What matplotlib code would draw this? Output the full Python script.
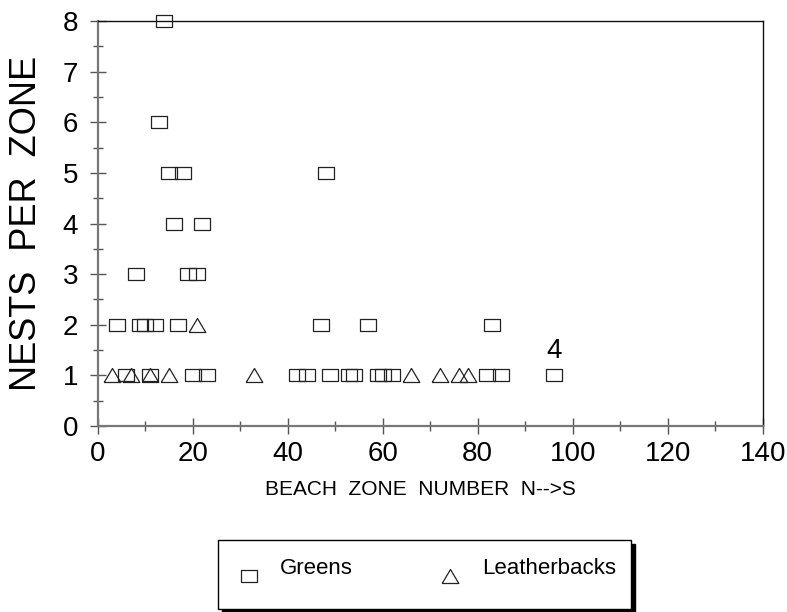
import matplotlib
matplotlib.use("Agg")
import matplotlib.pyplot as plt
from matplotlib.patches import Rectangle
from matplotlib.lines import Line2D
from matplotlib.ticker import MultipleLocator

plt.rcParams['font.family'] = ['Liberation Sans', 'DejaVu Sans']

# Beach zone number (x) and nests per zone (y) for each species
greens_zone = [14, 13, 15, 18, 48, 16, 22, 8, 19, 21,
               4, 9, 10, 12, 17, 47, 57, 83,
               6, 11, 20, 23, 42, 44, 49, 53, 54, 59, 60, 62, 82, 85, 96]
greens_nests = [8, 6, 5, 5, 5, 4, 4, 3, 3, 3,
                2, 2, 2, 2, 2, 2, 2, 2,
                1, 1, 1, 1, 1, 1, 1, 1, 1, 1, 1, 1, 1, 1, 1]

leather_zone = [21, 3, 7, 11, 15, 33, 66, 72, 76, 78]
leather_nests = [2, 1, 1, 1, 1, 1, 1, 1, 1, 1]

note_zone, note_nests, note_text = 96, 1.48, "4"

x_ticks = [0, 20, 40, 60, 80, 100, 120, 140]
y_ticks = [0, 1, 2, 3, 4, 5, 6, 7, 8]

W, H = 787, 612
fig = plt.figure(figsize=(W / 100, H / 100), dpi=100)
ax = fig.add_axes([97.7 / W, 1 - 426 / H, (762.7 - 97.7) / W, (426 - 21) / H])

# open rectangle and open triangle marker shapes
rect_marker = [(-0.5, -0.37), (0.5, -0.37), (0.5, 0.37), (-0.5, 0.37), (-0.5, -0.37)]
tri_marker = [(-0.5, -0.42), (0.5, -0.42), (0.0, 0.42), (-0.5, -0.42)]
mk_color = '#222222'

ax.plot(greens_zone, greens_nests, linestyle='none', marker=rect_marker,
        markersize=11.5, markerfacecolor='none', markeredgecolor=mk_color,
        markeredgewidth=0.9, clip_on=False, zorder=3)
ax.plot(leather_zone, leather_nests, linestyle='none', marker=tri_marker,
        markersize=12.0, markerfacecolor='none', markeredgecolor=mk_color,
        markeredgewidth=0.9, clip_on=False, zorder=3)

ax.text(note_zone, note_nests, note_text, ha='center', va='center', fontsize=20)

ax.set_xlim(0, 140)
ax.set_ylim(0, 8)
ax.set_xticks(x_ticks)
ax.set_yticks(y_ticks)
ax.xaxis.set_minor_locator(MultipleLocator(10))
ax.yaxis.set_minor_locator(MultipleLocator(0.5))

ax.tick_params(axis='both', which='major', direction='inout', length=12,
               width=1.0, color='#555555', labelsize=20)
ax.tick_params(axis='both', which='minor', direction='inout', length=7,
               width=1.0, color='#555555')
ax.tick_params(axis='y', which='major', pad=8)
ax.tick_params(axis='x', which='major', pad=5)

for side in ('left', 'bottom'):
    ax.spines[side].set_color('#777777')
    ax.spines[side].set_linewidth(1.6)
for side in ('top', 'right'):
    ax.spines[side].set_color('#111111')
    ax.spines[side].set_linewidth(1.0)

ax.set_ylabel("NESTS  PER  ZONE", fontsize=26)
ax.yaxis.set_label_coords((44 - 97.7) / 665, 0.5)
ax.set_xlabel("BEACH  ZONE  NUMBER  N-->S", fontsize=15)
ax.xaxis.set_label_coords((420 - 97.7) / 665, -(480 - 426) / 405)
ax.xaxis.label.set_va('top')

# legend box with a drop shadow
def fx(px):
    return px / W

def fy(py):
    return 1 - py / H

x0, x1, y0, y1 = 218, 631, 540, 609
fig.add_artist(Rectangle((fx(x0 + 4), fy(y1 + 4)), fx(x1 - x0), (y1 - y0) / H,
                         transform=fig.transFigure, facecolor='black',
                         edgecolor='black', zorder=1))
fig.add_artist(Rectangle((fx(x0), fy(y1)), fx(x1 - x0), (y1 - y0) / H,
                         transform=fig.transFigure, facecolor='white',
                         edgecolor='black', linewidth=1.0, zorder=2))
fig.add_artist(Line2D([fx(249)], [fy(576)], transform=fig.transFigure,
                      marker=rect_marker, markersize=11.5, markerfacecolor='none',
                      markeredgecolor=mk_color, markeredgewidth=0.9, zorder=3))
fig.add_artist(Line2D([fx(449.5)], [fy(576)], transform=fig.transFigure,
                      marker=tri_marker, markersize=12.0, markerfacecolor='none',
                      markeredgecolor=mk_color, markeredgewidth=0.9, zorder=3))
fig.text(fx(280), fy(569), "Greens", fontsize=16, ha='left', va='center', zorder=4)
fig.text(fx(482), fy(569), "Leatherbacks", fontsize=16, ha='left', va='center', zorder=4)

fig.savefig("out.png", dpi=100)
